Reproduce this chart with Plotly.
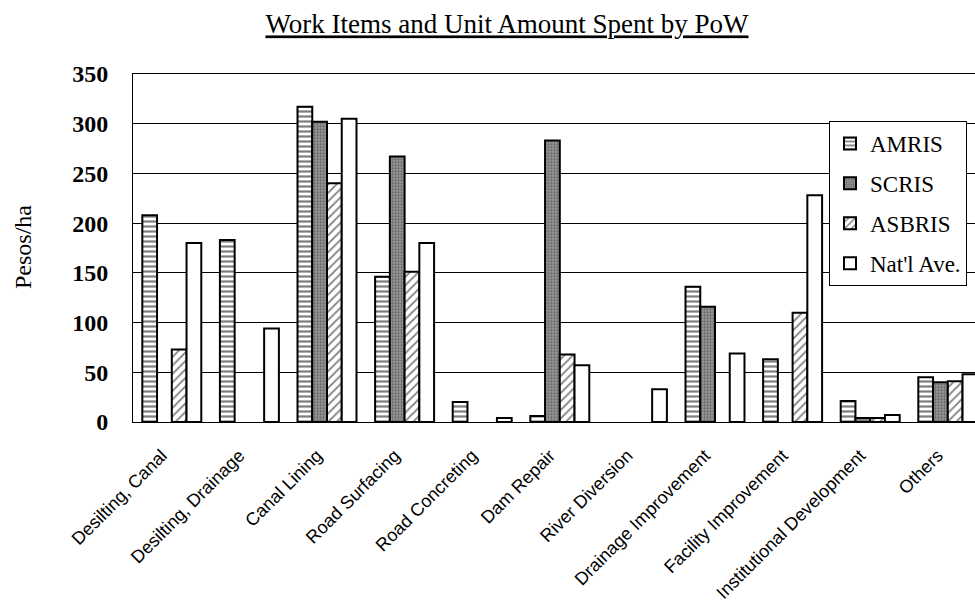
import plotly.graph_objects as go

# Work items (x categories)
categories = [
    "Desilting, Canal", "Desilting, Drainage", "Canal Lining", "Road Surfacing",
    "Road Concreting", "Dam Repair", "River Diversion", "Drainage Improvement",
    "Facility Improvement", "Institutional Development", "Others",
]

# Unit amount spent (Pesos/ha) per system; None = no work of that type
amris = [208, 183, 317, 146, 20, 6, None, 136, 63, 21, 45]
scris = [None, None, 302, 267, None, 283, None, 116, None, 4, 40]
asbris = [73, None, 240, 151, None, 68, None, None, 110, 4, 41]
natl_ave = [180, 94, 305, 180, 4, 57, 33, 69, 228, 7, 48]

y_ticks = [0, 50, 100, 150, 200, 250, 300, 350]

W, H = 975, 612
M_L, M_T, M_B, M_R = 133, 74, 190, 0
PLOT_W = W - M_L - M_R
PLOT_H = H - M_T - M_B

series = [
    ("AMRIS", amris, dict(shape="-", fgcolor="black", bgcolor="white", size=5, solidity=0.45)),
    ("SCRIS", scris, dict(shape=".", fgcolor="#3a3a3a", bgcolor="#9a9a9a", size=3, solidity=0.45)),
    ("ASBRIS", asbris, dict(shape="/", fgcolor="black", bgcolor="white", size=6, solidity=0.3)),
    ("Nat'l Ave.", natl_ave, dict(shape="", fgcolor="black", bgcolor="white")),
]

fig = go.Figure()
for i, (name, vals, pat) in enumerate(series):
    fig.add_trace(go.Bar(
        name=name,
        x=categories,
        y=vals,
        legendgroup=f"g{i}",
        marker=dict(
            color="white",
            line=dict(color="black", width=2),
            pattern=pat,
        ),
    ))

fig.update_layout(
    width=W,
    height=H,
    margin=dict(l=M_L, r=M_R, t=M_T, b=M_B, pad=0),
    paper_bgcolor="white",
    plot_bgcolor="white",
    barmode="group",
    bargap=0.24,
    bargroupgap=0,
    title=dict(
        text="<u>Work Items and Unit Amount Spent by PoW</u>",
        font=dict(family="Liberation Serif", size=27, color="black"),
        xref="container", yref="container",
        x=507 / W, y=1 - 24 / H,
        xanchor="center", yanchor="middle",
    ),
    legend=dict(
        x=(829 - M_L) / PLOT_W, y=(422 - 121) / PLOT_H,
        xanchor="left", yanchor="top",
        bgcolor="white", bordercolor="black", borderwidth=1,
        font=dict(family="Liberation Serif", size=23, color="black"),
        traceorder="grouped", tracegroupgap=7,
        itemwidth=30,
    ),
    showlegend=True,
    annotations=[
        dict(
            text="Pesos/ha",
            xref="paper", yref="paper",
            x=(23 - M_L) / PLOT_W, y=(422 - 247) / PLOT_H,
            xanchor="center", yanchor="middle",
            textangle=-90, showarrow=False,
            font=dict(family="Liberation Serif", size=24, color="black"),
        )
    ],
)

cat_w = 77.6
x_max = -0.5 + PLOT_W / cat_w

fig.update_xaxes(
    type="category",
    range=[-0.5, x_max],
    tickangle=-45,
    tickfont=dict(family="Liberation Sans", size=18, color="black"),
    ticklabelstandoff=15,
    ticklabelshift=-10,
    showline=True, linecolor="black", linewidth=1, mirror=True,
    showgrid=False,
    ticks="", automargin=False,
)

fig.update_yaxes(
    range=[0, 350],
    tickvals=y_ticks,
    ticktext=[str(v) for v in y_ticks],
    tickfont=dict(family="Liberation Serif", size=24, color="black", weight="bold"),
    ticklabelstandoff=19,
    showline=True, linecolor="black", linewidth=1,
    showgrid=True, gridcolor="black", gridwidth=1,
    zeroline=False,
    ticks="", automargin=False,
)

fig.write_html("out.html")
